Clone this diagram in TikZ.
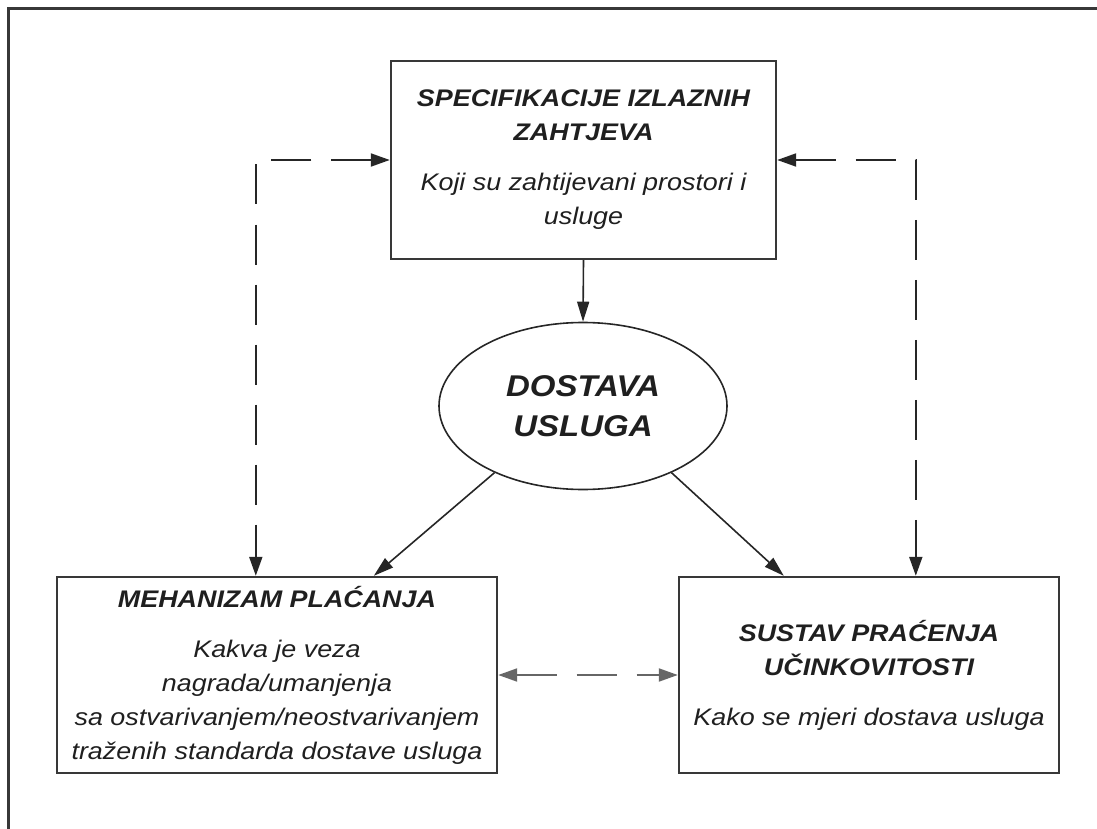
\documentclass[tikz,border=0pt]{standalone}
\usepackage{fontspec}
\setmainfont{Liberation Sans}[FakeStretch=1.12]
\newfontfamily\elipsafont{Liberation Sans}[FakeStretch=1.1]
\usetikzlibrary{shapes.geometric,arrows.meta}
\newcommand{\naslov}[1]{{\bfseries #1}}
\begin{document}
\begin{tikzpicture}[x=1pt,y=-1pt,
    okvir/.style={draw=black!78,line width=3pt},
    kutija/.style={draw=black!78,line width=2.4pt,align=center,inner sep=0pt,
      text=black!88,font=\fontsize{24}{34}\selectfont\itshape},
    elipsa/.style={ellipse,draw=black!85,line width=1.6pt,align=center,inner sep=0pt,
      text=black!88,font=\elipsafont\fontsize{30}{40}\selectfont\bfseries\itshape},
    strelica/.style={draw=black!85,line width=1.6pt,-{Triangle[length=20pt,width=12pt]}},
    isprekidana/.style={draw=black!85,line width=2pt,dash pattern=on 40pt off 20pt,
      {Triangle[length=19pt,width=13pt]}-{Triangle[length=19pt,width=13pt]}}]
        \useasboundingbox (0,0) rectangle (1097,829);
        \draw[okvir] (8,829) -- (8,9) -- (1097,9);

        \node[kutija,minimum width=385pt,minimum height=198pt] (spec) at (583.5,160)
          {\naslov{SPECIFIKACIJE IZLAZNIH}\\ \naslov{ZAHTJEVA}\\[16pt]
           Koji su zahtijevani prostori i\\ usluge};
        \node[elipsa,minimum width=288pt,minimum height=167pt] (dost) at (583,406)
          {DOSTAVA\\ USLUGA};
        \node[kutija,minimum width=440pt,minimum height=196pt] (meh) at (277,675)
          {\naslov{MEHANIZAM PLAĆANJA}\\[16pt]
           Kakva je veza\\ nagrada/umanjenja\\
           sa ostvarivanjem/neostvarivanjem\\ traženih standarda dostave usluga};
        \node[kutija,minimum width=380pt,minimum height=196pt] (suc) at (869,675)
          {\naslov{SUSTAV PRAĆENJA}\\ \naslov{UČINKOVITOSTI}\\[16pt]
           Kako se mjeri dostava usluga};

        \draw[strelica] (spec.south) -- (dost.north);
        \draw[strelica] (dost.217) -- ([xshift=318pt]meh.north west);
        \draw[strelica] (dost.-37) -- ([xshift=106pt]suc.north west);

        \draw[isprekidana] (spec.west) -| ([xshift=200pt]meh.north west);
        \draw[isprekidana] (spec.east) -| ([xshift=238pt]suc.north west);
        \draw[isprekidana,draw=black!60] (meh.east) -- (suc.west);
\end{tikzpicture}
\end{document}
